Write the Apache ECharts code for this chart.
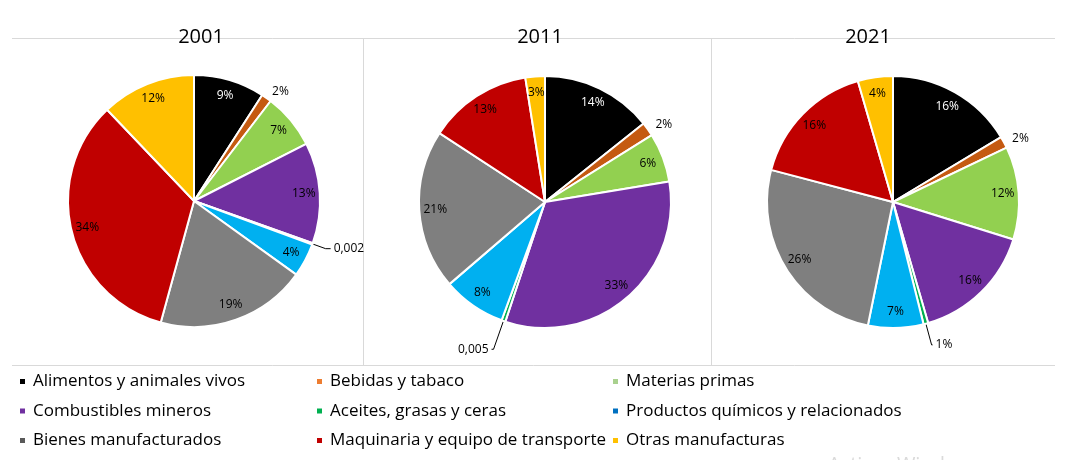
<!DOCTYPE html>
<html>
<head>
<meta charset="utf-8">
<script src="https://cdn.jsdelivr.net/npm/echarts@6/dist/echarts.min.js"></script>
<style>
html,body{margin:0;padding:0;background:#fff;}
#chart{width:1066px;height:460px;}
</style>
</head>
<body>
<div id="chart"></div>
<script>
// ---- data ----
const categories = [
  'Alimentos y animales vivos',
  'Bebidas y tabaco',
  'Materias primas',
  'Combustibles mineros',
  'Aceites, grasas y ceras',
  'Productos químicos y relacionados',
  'Bienes manufacturados',
  'Maquinaria y equipo de transporte',
  'Otras manufacturas'
];
const years = ['2001', '2011', '2021'];
const values2001 = [9.1, 1.3, 7.1, 12.9, 0.2, 4.3, 19.3, 33.6, 12.1];
const values2011 = [14.3, 1.8, 6.3, 32.7, 0.5, 8.1, 20.5, 13.3, 2.5];
const values2021 = [16.4, 1.5, 11.9, 15.7, 0.6, 7.1, 25.9, 16.4, 4.5];
const labels2001 = ['9%', '2%', '7%', '13%', '0,002', '4%', '19%', '34%', '12%'];
const labels2011 = ['14%', '2%', '6%', '33%', '0,005', '8%', '21%', '13%', '3%'];
const labels2021 = ['16%', '2%', '12%', '16%', '1%', '7%', '26%', '16%', '4%'];

// ---- styles ----
const sliceColors = ['#000000', '#C55A11', '#92D050', '#7030A0', '#00B050', '#00B0F0', '#7F7F7F', '#C00000', '#FFC000'];
const legendColors = ['#000000', '#ED7D31', '#A9D18E', '#7030A0', '#00B050', '#0070C0', '#595959', '#C00000', '#FFC000'];
const allValues = [values2001, values2011, values2021];
const allLabels = [labels2001, labels2011, labels2021];
const panels = [
  { center: [194, 201], titleX: 201, leader: { length: 14, length2: 5 } },
  { center: [545, 202], titleX: 540, leader: { length: 30, length2: 2 } },
  { center: [893, 202], titleX: 868, leader: { length: 22, length2: 1 } }
];
const R = 126;
const FONT = 'Open Sans';

const series = [];
allValues.forEach((vals, p) => {
  const pan = panels[p];
  series.push({
    type: 'pie',
    center: pan.center,
    radius: [0, R],
    startAngle: 90,
    clockwise: true,
    animation: false,
    silent: true,
    avoidLabelOverlap: false,
    itemStyle: { borderColor: '#ffffff', borderWidth: 2 },
    label: { show: false },
    labelLine: { show: false },
    data: vals.map((v, i) => ({ name: categories[i], value: v, itemStyle: { color: sliceColors[i] } }))
  });
  series.push({
    type: 'pie',
    center: pan.center,
    radius: [88, R],
    startAngle: 90,
    clockwise: true,
    animation: false,
    silent: true,
    avoidLabelOverlap: false,
    itemStyle: { color: 'rgba(0,0,0,0)', borderWidth: 0 },
    label: {
      show: true,
      position: 'inside',
      fontFamily: FONT,
      fontSize: 12,
      color: '#000'
    },
    labelLine: { show: false },
    data: vals.map((v, i) => {
      const d = {
        name: categories[i],
        value: v,
        label: { formatter: allLabels[p][i], color: i === 0 ? '#ffffff' : '#000000' }
      };
      if (i === 1) {
        d.label.position = 'outside';
        d.label.distanceToLabelLine = 1;
        d.labelLine = { show: false, length: 8, length2: 0 };
      }
      if (i === 4) {
        d.label.position = 'outside';
        d.label.distanceToLabelLine = 3;
        d.labelLine = { show: true, length: pan.leader.length, length2: pan.leader.length2, lineStyle: { color: '#000', width: 1 } };
      }
      return d;
    })
  });
});

const legendCols = [[0, 3, 6], [1, 4, 7], [2, 5, 8]];
const legendLeft = [18, 315, 611];
const legends = legendCols.map((col, c) => ({
  orient: 'vertical',
  left: legendLeft[c],
  top: 372,
  padding: 0,
  itemWidth: 7,
  itemHeight: 7,
  itemGap: 10.5,
  icon: 'rect',
  selectedMode: false,
  textStyle: { fontFamily: FONT, fontSize: 17, color: '#000', lineHeight: 19, padding: [0, 0, 0, 2] },
  data: col.map(i => ({ name: categories[i], itemStyle: { color: legendColors[i] } }))
}));

const titles = years.map((y, p) => ({
  text: y,
  left: panels[p].titleX,
  top: 27,
  padding: 0,
  textAlign: 'center',
  textStyle: { fontFamily: FONT, fontSize: 20, fontWeight: 'normal', color: '#000' }
}));

const lineStyle = { stroke: '#d9d9d9', lineWidth: 1 };
const chart = echarts.init(document.getElementById('chart'), null, { renderer: 'canvas' });
chart.setOption({
  backgroundColor: '#ffffff',
  animation: false,
  title: titles,
  legend: legends,
  graphic: [
    { type: 'line', z: -1, shape: { x1: 12, y1: 38.5, x2: 1055, y2: 38.5 }, style: lineStyle },
    { type: 'line', z: -1, shape: { x1: 12, y1: 365.5, x2: 1055, y2: 365.5 }, style: lineStyle },
    { type: 'line', z: -1, shape: { x1: 363.5, y1: 38.5, x2: 363.5, y2: 365.5 }, style: lineStyle },
    { type: 'line', z: -1, shape: { x1: 711.5, y1: 38.5, x2: 711.5, y2: 365.5 }, style: lineStyle },
    { type: 'text', left: 828, top: 455, style: { text: 'Activar Windows', fill: '#dadada', font: '20px "Open Sans"' } }
  ],
  series: series
});
</script>
</body>
</html>
